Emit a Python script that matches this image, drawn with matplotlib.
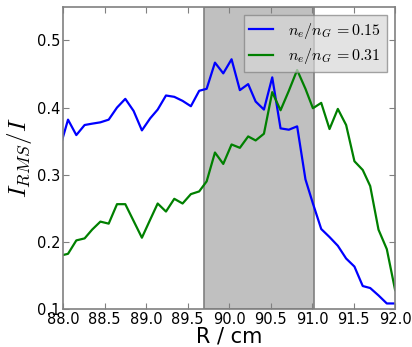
import matplotlib
matplotlib.use('Agg')
import matplotlib.pyplot as plt

plt.rcParams['mathtext.fontset'] = 'cm'

# radial positions (cm)
R = [87.96, 88.06, 88.16, 88.26, 88.35, 88.45, 88.55, 88.65, 88.75, 88.85,
     88.95, 89.05, 89.14, 89.24, 89.34, 89.44, 89.54, 89.64, 89.73, 89.83,
     89.93, 90.03, 90.13, 90.23, 90.32, 90.42, 90.52, 90.62, 90.72, 90.82,
     90.92, 91.01, 91.11, 91.21, 91.31, 91.41, 91.51, 91.61, 91.70, 91.80,
     91.90, 92.00]

# I_RMS / I at n_e/n_G = 0.15
irms_015 = [0.339, 0.382, 0.359, 0.374, 0.376, 0.378, 0.382, 0.400, 0.413, 0.395,
            0.366, 0.384, 0.397, 0.418, 0.416, 0.410, 0.402, 0.425, 0.428, 0.467,
            0.451, 0.472, 0.426, 0.435, 0.409, 0.397, 0.445, 0.369, 0.367, 0.372,
            0.293, 0.257, 0.219, 0.207, 0.194, 0.175, 0.163, 0.134, 0.131, 0.120,
            0.108, 0.108]

# I_RMS / I at n_e/n_G = 0.31
irms_031 = [0.179, 0.182, 0.202, 0.205, 0.218, 0.230, 0.227, 0.256, 0.256, 0.231,
            0.206, 0.233, 0.257, 0.245, 0.264, 0.257, 0.271, 0.275, 0.290, 0.333,
            0.316, 0.345, 0.340, 0.357, 0.351, 0.361, 0.423, 0.396, 0.425, 0.456,
            0.428, 0.399, 0.407, 0.368, 0.398, 0.374, 0.320, 0.307, 0.283, 0.218,
            0.189, 0.128]

labels = [r'$n_e/n_G\,{=}0.15$', r'$n_e/n_G\,{=}0.31$']
span = (89.70, 91.02)

fig = plt.figure(figsize=(4.12, 3.47), dpi=100)
ax = fig.add_axes([0.153, 0.11, 0.806, 0.87])

ax.axvspan(span[0], span[1], facecolor='#c0c0c0', edgecolor='#808080', lw=1.2, zorder=0)
ax.plot(R, irms_015, color='#0000ff', lw=1.6, label=labels[0])
ax.plot(R, irms_031, color='#008000', lw=1.6, label=labels[1])

ax.set_xlim(88.0, 92.0)
ax.set_ylim(0.1, 0.55)
ax.set_xticks([88.0, 88.5, 89.0, 89.5, 90.0, 90.5, 91.0, 91.5, 92.0])
ax.set_yticks([0.1, 0.2, 0.3, 0.4, 0.5])
ax.set_xticklabels(['%.1f' % v for v in ax.get_xticks()])
ax.set_yticklabels(['%.1f' % v for v in ax.get_yticks()])

for s in ax.spines.values():
    s.set_color('#808080')
    s.set_linewidth(1.2)
ax.tick_params(direction='in', top=True, right=True, length=4, color='#808080',
               labelsize=10.5, pad=2)

ax.set_xlabel('R / cm', fontsize=15, labelpad=0)
ax.set_ylabel(r'$I_{RMS}/I$', fontsize=18, labelpad=2)

leg = ax.legend(loc='upper right', fontsize=11.5, handlelength=1.45, handletextpad=1.0,
                borderpad=0.35, labelspacing=0.35, borderaxespad=0.5, fancybox=False)
leg.get_frame().set_facecolor('#d8d8d8')
leg.get_frame().set_alpha(0.7)
leg.get_frame().set_edgecolor('#808080')

fig.savefig('out.png', dpi=100)
